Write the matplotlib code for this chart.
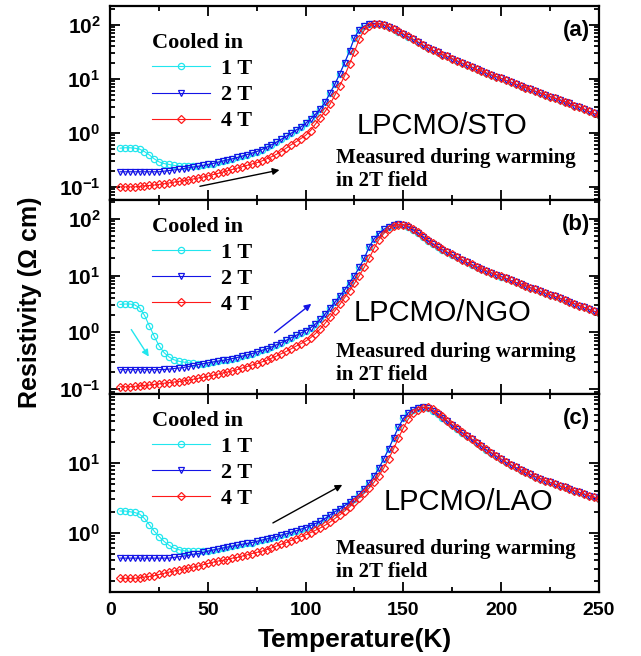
import numpy as np
import matplotlib
matplotlib.use('Agg')
import matplotlib.pyplot as plt
from matplotlib.ticker import MultipleLocator, LogLocator, FuncFormatter, NullFormatter

plt.rcParams['font.family'] = 'Liberation Sans'
plt.rcParams['mathtext.fontset'] = 'custom'
plt.rcParams['mathtext.bf'] = 'Liberation Sans:bold'
plt.rcParams['mathtext.rm'] = 'Liberation Sans'

# temperature grid (K)
temp = np.arange(5, 251, 2.5)

# LPCMO/STO, resistivity (Ohm cm)
sto_2t = [0.19, 0.19, 0.19, 0.19, 0.19, 0.19, 0.19, 0.19, 0.19, 0.195,
          0.2, 0.205, 0.21, 0.218, 0.225, 0.232, 0.24, 0.25, 0.26, 0.27,
          0.285, 0.3, 0.315, 0.33, 0.35, 0.37, 0.395, 0.42, 0.45, 0.49,
          0.54, 0.6, 0.67, 0.76, 0.86, 0.98, 1.12, 1.28, 1.5, 1.8,
          2.2, 2.8, 3.7, 5.5, 8, 12.5, 20, 33, 58, 82,
          95, 102, 106, 106, 100, 92, 83, 75, 67, 60,
          54, 48, 42, 38, 34, 31, 28, 26, 23.5, 21.5,
          19.5, 18, 16.5, 15, 14, 12.8, 11.8, 11, 10.2, 9.4,
          8.7, 8, 7.4, 6.9, 6.4, 5.9, 5.5, 5.1, 4.7, 4.4,
          4.1, 3.8, 3.5, 3.2, 3.0, 2.75, 2.5, 2.3, 2.1]
sto_4t = [0.1, 0.1, 0.1, 0.1, 0.102, 0.104, 0.106, 0.108, 0.111, 0.114,
          0.118, 0.122, 0.126, 0.13, 0.135, 0.14, 0.146, 0.152, 0.16, 0.168,
          0.177, 0.187, 0.198, 0.21, 0.222, 0.236, 0.25, 0.265, 0.28, 0.3,
          0.33, 0.36, 0.4, 0.45, 0.52, 0.6, 0.68, 0.78, 0.9, 1.1,
          1.45, 1.9, 2.5, 3.4, 5.0, 7.5, 11.5, 19, 32, 55,
          80, 95, 103, 105, 101, 93, 84, 76, 68, 61,
          54, 48, 42.5, 38, 34, 31, 28, 26, 23.5, 21.5,
          19.5, 18, 16.5, 15, 14, 12.8, 11.8, 11, 10.2, 9.4,
          8.7, 8, 7.4, 6.9, 6.4, 5.9, 5.5, 5.1, 4.7, 4.4,
          4.1, 3.8, 3.5, 3.2, 3.0, 2.75, 2.5, 2.3, 2.1]
sto_1t_low = [0.52, 0.53, 0.53, 0.52, 0.5, 0.45, 0.39, 0.33, 0.29, 0.27,
              0.26, 0.25, 0.245, 0.24, 0.24, 0.24, 0.242]
sto_1t = sto_1t_low + sto_2t[len(sto_1t_low):]

# LPCMO/NGO
ngo_2t = [0.22, 0.22, 0.22, 0.22, 0.22, 0.22, 0.22, 0.22, 0.22, 0.222,
          0.225, 0.23, 0.235, 0.24, 0.25, 0.26, 0.27, 0.28, 0.29, 0.3,
          0.31, 0.32, 0.33, 0.345, 0.36, 0.38, 0.4, 0.42, 0.45, 0.48,
          0.51, 0.55, 0.6, 0.66, 0.72, 0.8, 0.88, 0.97, 1.07, 1.2,
          1.4, 1.7, 2.1, 2.7, 3.4, 4.4, 5.6, 7.5, 10, 14,
          20, 32, 44, 55, 65, 73, 78, 80, 78, 72,
          64, 56, 48, 41, 36, 32, 28.5, 25.5, 23, 20.8,
          18.8, 17, 15.5, 14.2, 13, 12, 11.1, 10.3, 9.6, 8.9,
          8.2, 7.6, 7.1, 6.6, 6.1, 5.7, 5.3, 4.95, 4.6, 4.3,
          4.0, 3.7, 3.45, 3.2, 2.95, 2.75, 2.55, 2.35, 2.2]
ngo_4t = [0.11, 0.11, 0.11, 0.112, 0.114, 0.116, 0.118, 0.121, 0.124, 0.127,
          0.13, 0.133, 0.136, 0.14, 0.144, 0.149, 0.155, 0.161, 0.168, 0.175,
          0.183, 0.192, 0.2, 0.21, 0.22, 0.235, 0.25, 0.265, 0.28, 0.3,
          0.32, 0.35, 0.38, 0.42, 0.46, 0.51, 0.57, 0.63, 0.7, 0.8,
          0.95, 1.15, 1.45, 1.85, 2.4, 3.1, 4.1, 5.4, 7.3, 10,
          14, 20, 30, 43, 55, 66, 74, 79, 79, 75,
          67, 58, 50, 43, 37, 33, 29, 26, 23.5, 21,
          19, 17.2, 15.7, 14.3, 13.1, 12.1, 11.2, 10.4, 9.7, 9.0,
          8.2, 7.6, 7.1, 6.6, 6.1, 5.7, 5.3, 4.95, 4.6, 4.3,
          4.0, 3.7, 3.45, 3.2, 2.95, 2.75, 2.55, 2.35, 2.2]
ngo_1t_low = [3.1, 3.15, 3.15, 3.05, 2.7, 2.0, 1.3, 0.85, 0.58, 0.44,
              0.37, 0.33, 0.31, 0.3, 0.29, 0.285, 0.28]
ngo_1t = ngo_1t_low + ngo_2t[len(ngo_1t_low):]

# LPCMO/LAO
lao_2t = [0.43, 0.43, 0.43, 0.43, 0.43, 0.43, 0.43, 0.43, 0.43, 0.43,
          0.43, 0.44, 0.45, 0.46, 0.47, 0.49, 0.5, 0.52, 0.54, 0.56,
          0.58, 0.6, 0.62, 0.64, 0.66, 0.68, 0.7, 0.72, 0.75, 0.78,
          0.81, 0.84, 0.88, 0.92, 0.96, 1.01, 1.06, 1.12, 1.18, 1.26,
          1.35, 1.45, 1.6, 1.8, 2.0, 2.2, 2.45, 2.75, 3.1, 3.6,
          4.3, 5.2, 6.5, 8.5, 11.5, 16, 23, 33, 44, 53,
          59, 63, 64, 62, 57, 51, 45, 40, 35, 31,
          27.5, 24.5, 22, 19.5, 17.5, 15.5, 14, 12.6, 11.4, 10.3,
          9.4, 8.7, 8.0, 7.4, 6.9, 6.4, 6.0, 5.6, 5.3, 5.0,
          4.7, 4.5, 4.25, 4.0, 3.8, 3.6, 3.4, 3.25, 3.1]
lao_4t = [0.22, 0.22, 0.22, 0.22, 0.225, 0.23, 0.235, 0.24, 0.25, 0.26,
          0.27, 0.28, 0.29, 0.3, 0.31, 0.32, 0.33, 0.345, 0.36, 0.375,
          0.39, 0.4, 0.41, 0.43, 0.44, 0.46, 0.48, 0.5, 0.52, 0.54,
          0.57, 0.6, 0.64, 0.68, 0.72, 0.77, 0.82, 0.87, 0.93, 1.0,
          1.08, 1.17, 1.28, 1.42, 1.6, 1.8, 2.05, 2.35, 2.75, 3.2,
          3.7, 4.4, 5.3, 6.6, 8.5, 11.5, 16, 23, 32, 43,
          52, 59, 63, 64, 60, 53, 47, 41, 36, 32,
          28, 25, 22.3, 19.8, 17.7, 15.8, 14.2, 12.8, 11.5, 10.4,
          9.5, 8.7, 8.0, 7.4, 6.9, 6.4, 6.0, 5.6, 5.3, 5.0,
          4.7, 4.5, 4.25, 4.0, 3.8, 3.6, 3.4, 3.25, 3.1]
lao_1t_low = [2.05, 2.05, 2.0, 1.95, 1.85, 1.6, 1.3, 1.05, 0.88, 0.75,
              0.66, 0.6, 0.57, 0.55, 0.54, 0.54, 0.54, 0.545, 0.55, 0.565,
              0.58, 0.6]
lao_1t = lao_1t_low + lao_2t[len(lao_1t_low):]

field_labels = ['1 T', '2 T', '4 T']
samples = ['LPCMO/STO', 'LPCMO/NGO', 'LPCMO/LAO']
tags = ['(a)', '(b)', '(c)']

cyan = '#22E6EE'
blue = '#1414E6'
red = '#FF1A1A'

serif_bold = dict(family='Liberation Serif', weight='bold', size=16)
note_font = dict(family='Liberation Serif', weight='bold', size=15)

fig = plt.figure(figsize=(6.41, 6.56), dpi=100)
left, width = 0.172, 0.762
ax_a = fig.add_axes([left, 0.6951, width, 0.2958])
ax_b = fig.add_axes([left, 0.3994, width, 0.2957])
ax_c = fig.add_axes([left, 0.0976, width, 0.3018])

panels = [
    (ax_a, sto_1t, sto_2t, sto_4t, (0.057, 224), 0.86, 0.38, 0.68),
    (ax_b, ngo_1t, ngo_2t, ngo_4t, (0.082, 214), 0.915, 0.42, 0.68),
    (ax_c, lao_1t, lao_2t, lao_4t, (0.14, 99), 0.915, 0.455, 0.733),
]

def logfmt(v, pos):
    return r'$\mathbf{10^{%d}}$' % int(round(np.log10(v)))

for i, (ax, r1, r2, r4, ylim, leg_y, samp_y, samp_x) in enumerate(panels):
    ax.plot(temp, r1, '-o', color=cyan, mfc='none', ms=4.5, mew=0.9, lw=0.8,
            label=field_labels[0])
    ax.plot(temp, r2, '-v', color=blue, mfc='none', ms=4.5, mew=0.9, lw=0.8,
            label=field_labels[1])
    ax.plot(temp, r4, '-D', color=red, mfc='none', ms=4.0, mew=0.9, lw=0.8,
            label=field_labels[2])
    ax.set_yscale('log')
    ax.set_xlim(0, 250)
    ax.set_ylim(*ylim)
    ax.xaxis.set_major_locator(MultipleLocator(50))
    ax.xaxis.set_minor_locator(MultipleLocator(25))
    ax.yaxis.set_major_locator(LogLocator(base=10))
    ax.yaxis.set_minor_locator(LogLocator(base=10, subs=np.arange(2, 10)))
    ax.yaxis.set_major_formatter(FuncFormatter(logfmt))
    ax.yaxis.set_minor_formatter(NullFormatter())
    ax.tick_params(which='both', direction='in', top=True, right=True, width=1.3)
    ax.tick_params(which='major', length=7)
    ax.tick_params(which='minor', length=3.5)
    ax.tick_params(axis='y', labelsize=15, pad=7)
    ax.tick_params(axis='x', labelsize=14, pad=7)
    for t in ax.get_xticklabels():
        t.set_fontweight('bold')
    if i < 2:
        ax.tick_params(axis='x', labelbottom=False)
    for s in ax.spines.values():
        s.set_linewidth(1.6)

    leg = ax.legend(title='Cooled in', loc='upper left', bbox_to_anchor=(0.085, leg_y),
                    frameon=False, prop=serif_bold, title_fontproperties=serif_bold,
                    handlelength=2.6, numpoints=1, alignment='left',
                    labelspacing=0.25, handletextpad=0.5, borderaxespad=0, borderpad=0)

    ax.text(samp_x, samp_y, samples[i], transform=ax.transAxes, ha='center',
            va='center', fontsize=21)
    ax.text(0.462, 0.27, 'Measured during warming\nin 2T field', transform=ax.transAxes,
            ha='left', va='top', linespacing=1.2, **note_font)
    ax.text(0.982, 0.875, tags[i], transform=ax.transAxes, ha='right', va='center',
            fontsize=16, fontweight='bold')

# arrows showing the warming direction
arrow = dict(arrowstyle='-|>', lw=1.0, mutation_scale=10)
ax_a.annotate('', xy=(88, 0.21), xytext=(44.5, 0.1),
              arrowprops=dict(arrow, color='k'))
ax_b.annotate('', xy=(20.5, 0.34), xytext=(10, 1.23),
              arrowprops=dict(arrow, color=cyan))
ax_b.annotate('', xy=(104, 3.4), xytext=(83, 0.92),
              arrowprops=dict(arrow, color=blue))
ax_c.annotate('', xy=(120, 5.1), xytext=(82, 1.32),
              arrowprops=dict(arrow, color='k'))

fig.text(0.047, 1 - 302 / 656, u'Resistivity (\u03a9 cm)', rotation=90,
         ha='center', va='center', fontsize=18, fontweight='bold')
fig.text(355 / 641, 1 - 640 / 656, 'Temperature(K)', ha='center', va='center',
         fontsize=19, fontweight='bold')

fig.savefig('out.png', dpi=100)
